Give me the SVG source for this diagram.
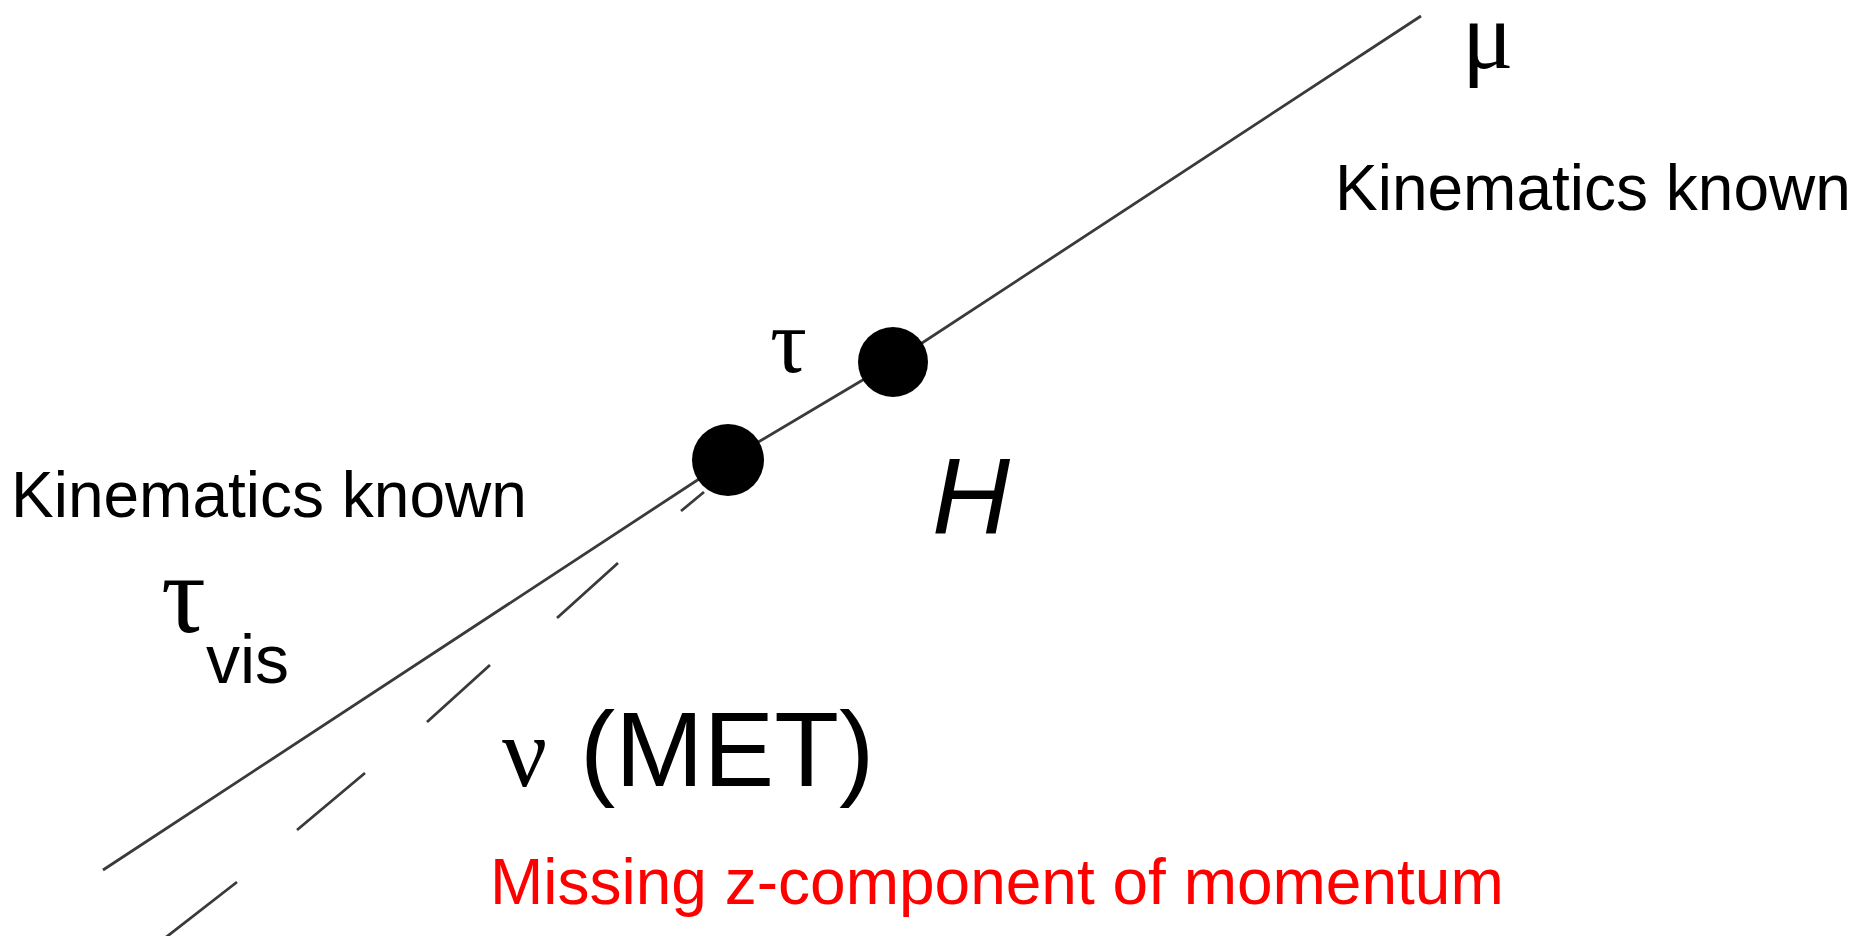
<svg xmlns="http://www.w3.org/2000/svg" width="1869" height="936" viewBox="0 0 1869 936">
<style>
.sans{font-family:"Liberation Sans",Arial,sans-serif;fill:#000}
.greek{font-family:"Liberation Serif","Times New Roman",serif;fill:#000}
.track{fill:none;stroke:#3a3a3a;stroke-width:2.8;stroke-linecap:butt}
.vertex{fill:#000}
</style>
<rect width="1869" height="936" fill="#fff"/>
<g id="connectors">
<polyline class="track" points="103,870 728,460 893,362 1421,16"/>
<path class="track" d="M704,492 L681,511 M618,563 L557,618 M490,665 L427,722 M365,773 L297,830 M237,882 L165,938"/>
</g>
<g id="tau-vertex"><circle class="vertex" cx="728" cy="460" r="36"/></g>
<g id="higgs-vertex"><circle class="vertex" cx="893" cy="362" r="35"/></g>
<g id="mu-label">
<text class="greek" x="1462" y="68" font-size="96">μ</text>
<text class="sans" x="1335" y="210" font-size="64">Kinematics known</text>
</g>
<g id="tau-label"><text class="greek" x="770" y="372" font-size="92">τ</text></g>
<g id="higgs-label"><text class="sans" x="932" y="533" font-size="108" font-style="italic">H</text></g>
<g id="tauvis-label">
<text class="sans" x="11" y="517" font-size="64">Kinematics known</text>
<text class="greek" x="161" y="632" font-size="112">τ</text>
<text class="sans" x="206" y="683" font-size="68">vis</text>
</g>
<g id="met-label">
<text y="786"><tspan class="greek" x="502" font-size="100">ν</tspan><tspan class="sans" x="580" font-size="106">(MET)</tspan></text>
<text class="sans" x="490" y="904" font-size="64" style="fill:#ff0000">Missing z-component of momentum</text>
</g>
</svg>
